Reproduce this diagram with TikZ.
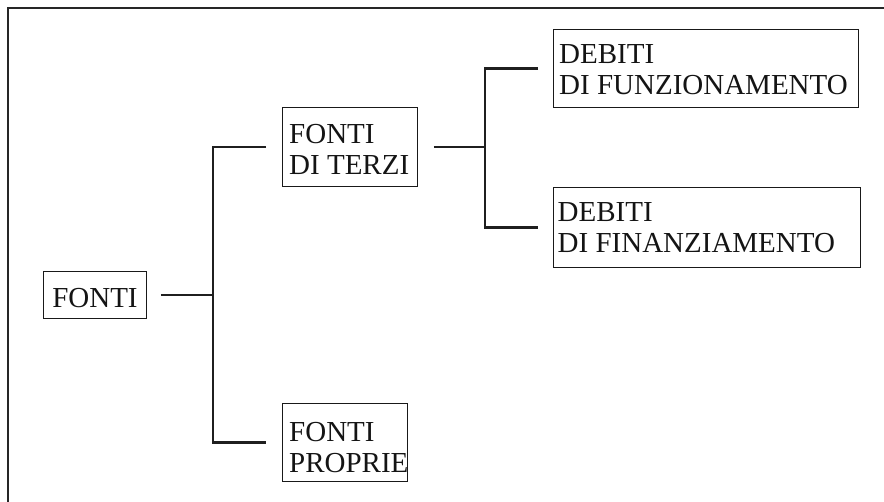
\documentclass[tikz,border=0pt]{standalone}
\usepackage{fontspec}
\setmainfont{Liberation Serif}
\begin{document}
\begin{tikzpicture}[x=1pt,y=-1pt,
  box/.style={draw=black!90, line width=0.9pt, anchor=north west, inner sep=0pt},
  txt/.style={anchor=west, inner sep=0pt, label distance=0pt, align=left,
    font=\fontsize{29}{31}\selectfont, text=black!92},
  conn/.style={draw=black!88, line width=2.4pt, line join=miter},
  frame/.style={draw=black!85, line width=1.6pt}]
  \useasboundingbox (0,0) rectangle (884,502);
  % open frame: top and left edges only
  \coordinate (ftop) at (884,8);
  \coordinate (fcorner) at (8,8);
  \coordinate (fbot) at (8,502);
  \draw[frame] (ftop) -- (fcorner) -- (fbot);

  % boxes, each with its text as a label
  \node[box, minimum width=103pt, minimum height=47pt,
    label={[txt, anchor=center, yshift=-2.6pt]center:FONTI}] (fonti) at (43,271) {};
  \node[box, minimum width=135pt, minimum height=79pt,
    label={[txt, xshift=7pt, yshift=-2.5pt]west:{FONTI\\DI TERZI}}] (terzi) at (282,107) {};
  \node[box, minimum width=125pt, minimum height=78pt,
    label={[txt, xshift=7pt, yshift=-5pt]west:{FONTI\\PROPRIE}}] (proprie) at (282,403) {};
  \node[box, minimum width=305pt, minimum height=78pt,
    label={[txt, xshift=6pt, yshift=-1.2pt]west:{DEBITI\\DI FUNZIONAMENTO}}] (funz) at (553,29) {};
  \node[box, minimum width=307pt, minimum height=80pt,
    label={[txt, xshift=4.5pt, yshift=-0.6pt]west:{DEBITI\\DI FINANZIAMENTO}}] (finanz) at (553,187) {};

  % bracket buses
  \coordinate (bus1) at (213,0);
  \coordinate (bus2) at (485,0);

  % first level
  \draw[conn] ([xshift=14pt]fonti.east) -- (fonti.east -| bus1);
  \draw[conn] ([xshift=-16pt]terzi.west) -| (bus1 |- proprie.west) -- ([xshift=-16pt]proprie.west);

  % second level
  \draw[conn] ([xshift=16pt]terzi.east) -- (terzi.east -| bus2);
  \draw[conn] ([xshift=-15pt]funz.west) -| (bus2 |- finanz.west) -- ([xshift=-15pt]finanz.west);
\end{tikzpicture}
\end{document}
